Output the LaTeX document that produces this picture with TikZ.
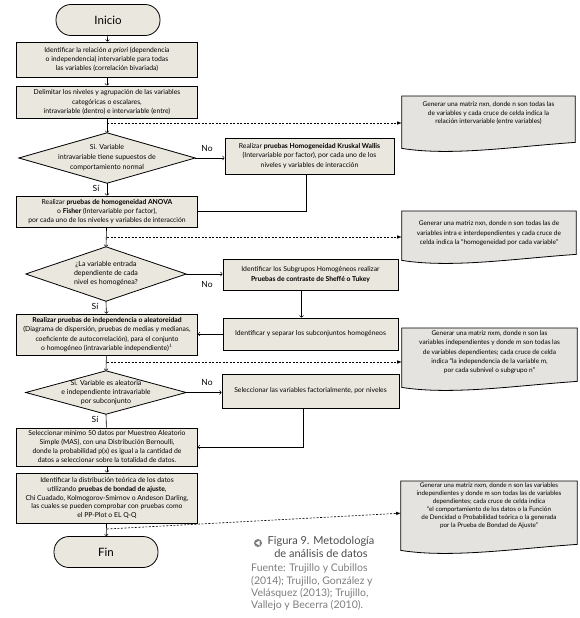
\documentclass[tikz,border=0pt]{standalone}
\usepackage{fontspec}
\setmainfont{Lato}
\usetikzlibrary{backgrounds,arrows}

\definecolor{boxgray}{RGB}{234,231,222}
\definecolor{docgray}{RGB}{229,227,223}
\definecolor{capgray}{RGB}{75,75,75}
\definecolor{srcgray}{RGB}{125,125,125}

\begin{document}
\begin{tikzpicture}[x=1pt,y=-1pt]

    \tikzset{
      BoxStyle/.style = { rectangle, draw, line width=0.8pt, fill=boxgray,
                          align=center, inner sep=1pt, minimum width=181pt,
                          font=\fontsize{6.8}{9.2}\selectfont },
      EndStyle/.style = { rectangle, rounded corners=15pt, draw, line width=0.8pt,
                          fill=boxgray, minimum width=104pt, minimum height=31pt,
                          font=\fontsize{11.5}{13}\selectfont },
      AskStyle/.style = { rectangle, align=center, inner sep=0pt,
                          font=\fontsize{7}{9}\selectfont },
      DocStyle/.style = { rectangle, anchor=north, align=center, inner sep=1pt,
                          font=\fontsize{6.5}{9.3}\selectfont },
      LabelStyle/.style = { inner sep=0pt, font=\fontsize{8.5}{10}\selectfont },
      EdgeStyle/.style = { ->, line width=0.6pt } }
    \useasboundingbox (0,0) rectangle (580,618);

      \node[EndStyle] (ini) at (108,20) {Inicio};
      \node[BoxStyle, minimum height=35pt] (rel) at (107,59.5)
        {Identificar la relación \textit{a priori} (dependencia\\
         o independencia) intervariable para todas\\
         las variables (correlación bivariada)};
      \node[BoxStyle, minimum height=32pt] (delim) at (107,102)
        {Delimitar los niveles y agrupación de las variables\\
         categóricas o escalares,\\
         intravariable (dentro) e intervariable (entre)};
      \node[AskStyle, minimum width=176pt, minimum height=50pt,
            font=\fontsize{7}{10}\selectfont] (si1) at (107,158)
        {Si. Variable\\intravariable tiene supuestos de\\comportamiento normal};
      \node[BoxStyle, minimum width=169pt, minimum height=36pt] (kw) at (309.5,156)
        {Realizar \textbf{pruebas Homogeneidad Kruskal Wallis}\\
         (Intervariable por factor), por cada uno de los\\
         niveles y variables de interacción};
      \node[BoxStyle, minimum height=31pt] (anova) at (107,211.5)
        {Realizar \textbf{pruebas de homogeneidad ANOVA}\\
         o \textbf{Fisher} (Intervariable por factor),\\
         por cada uno de los niveles y variables de interacción};
      \node[AskStyle, minimum width=160pt, minimum height=54pt] (homog) at (106,274)
        {¿La variable entrada\\dependiente de cada\\nivel es homogénea?};
      \node[BoxStyle, minimum width=175pt, minimum height=31pt] (sg) at (310.5,274.5)
        {Identificar los Subgrupos Homogéneos realizar\\
         \textbf{Pruebas de contraste de Sheffé o Tukey}};
      \node[BoxStyle, minimum height=41pt] (indep) at (107,334.5)
        {\textbf{Realizar pruebas de independencia o aleatoreidad}\\
         (Diagrama de dispersión, pruebas de medias y medianas,\\
         coeficiente de autocorrelación), para el conjunto\\
         o homogéneo (intravariable independiente)$^1$};
      \node[BoxStyle, minimum width=175pt, minimum height=32pt] (sep) at (310.5,334)
        {Identificar y separar los subconjuntos homogéneos};
      \node[AskStyle, minimum width=160pt, minimum height=43pt] (si2) at (106,392.5)
        {Si. Variable es aleatoria\\e independiente intravariable\\por subconjunto};
      \node[BoxStyle, minimum width=177pt, minimum height=34pt] (fac) at (310.5,391)
        {Seleccionar las variables factorialmente, por niveles};
      \node[BoxStyle, minimum height=38pt, font=\fontsize{6.8}{9}\selectfont] (mas) at (107,447)
        {Seleccionar mínimo 50 datos por Muestreo Aleatorio\\
         Simple (MAS), con una Distribución Bernoulli,\\
         donde la probabilidad p(x) es igual a la cantidad de\\
         datos a seleccionar sobre la totalidad de datos.};
      \node[BoxStyle, minimum height=50pt, font=\fontsize{6.8}{8.9}\selectfont] (ajuste) at (107,498)
        {Identificar la distribución teórica de los datos\\
         utilizando \textbf{pruebas de bondad de ajuste},\\
         Chi Cuadado, Kolmogorov-Smirnov o Andeson Darling,\\
         las cuales se pueden comprobar con pruebas como\\
         el PP-Plot o EL Q-Q};
      \node[EndStyle] (fin) at (106,552) {Fin};

      \node[DocStyle, minimum width=173pt, minimum height=34pt,
            font=\fontsize{6.5}{8.3}\selectfont] (doc1) at (488.5,96)
        {Generar una matriz nxn, donde n son todas las\\
         de variables y cada cruce de celda indica la\\
         relación intervariable (entre variables)};
      \node[DocStyle, minimum width=174pt, minimum height=44pt,
            font=\fontsize{6.5}{9.6}\selectfont] (doc2) at (489,211)
        {Generar una matriz nxn, donde n son todas las de\\
         variables intra e interdependientes y cada cruce de\\
         celda indica la “homogeneidad por cada variable”};
      \node[DocStyle, minimum width=175pt, minimum height=48pt] (doc3) at (489.5,328)
        {Generar una matriz nxm, donde n son las\\
         variables independientes y donde m son todas las\\
         de variables dependientes; cada cruce de celda\\
         indica “la independencia de la variable m,\\
         por cada subnivel o subgrupo n”};
      \node[DocStyle, minimum width=176pt, minimum height=50pt,
            font=\fontsize{6.3}{8}\selectfont] (doc4) at (489,481)
        {Generar una matriz nxm, donde n son las variables\\
         independientes y donde m son todas las de variables\\
         dependientes; cada cruce de celda indica\\
         “el comportamiento de los datos o la Función\\
         de Dencidad o Probabilidad teórica o la generada\\
         por la Prueba de Bondad de Ajuste”};

    \begin{pgfonlayer}{background}
      \foreach \d in {si1,homog,si2}
        \draw[line width=0.8pt, fill=boxgray]
          (\d.north) -- (\d.east) -- (\d.south) -- (\d.west) -- cycle;
      \foreach \d/\e in {doc1/18, doc2/5, doc3/11, doc4/19}
        \draw[line width=0.8pt, fill=docgray]
          (\d.north west) -- ([yshift=-\e pt]\d.south west)
          .. controls +(50pt,-8pt) and +(-60pt,-4pt) .. ([yshift={(6-\e)*1pt}]\d.south east)
          -- (\d.north east) -- cycle;
    \end{pgfonlayer}

      \node[LabelStyle] (no1) at (207,148) {No};
      \node[LabelStyle] (no2) at (207,284) {No};
      \node[LabelStyle] (no3) at (207,382) {No};
      \node[LabelStyle] (yes1) at (96,188) {Sí};
      \node[LabelStyle] (yes2) at (95,306) {Sí};
      \node[LabelStyle] (yes3) at (95,419) {Sí};

      \draw[EdgeStyle] (ini) -- (rel);
      \draw[EdgeStyle] (rel) -- (delim);
      \draw[EdgeStyle] (delim) -- (si1.north);
      \draw[EdgeStyle] (si1.east) -- (si1.east -| kw.west);
      \draw[EdgeStyle] (si1.south) -- (anova);
      \draw[line width=0.6pt] ([xshift=-3pt]kw.south) |- (anova.east);
      \draw[EdgeStyle] (anova) -- (homog.north);
      \draw[EdgeStyle] (homog.east) -- (homog.east -| sg.west);
      \draw[EdgeStyle] ([xshift=-9pt]sg.south) -- ([xshift=-9pt]sep.north);
      \draw[EdgeStyle] (sep.west) -- (sep.west -| indep.east);
      \draw[EdgeStyle] (homog.south) -- (indep);
      \draw[EdgeStyle] (indep) -- (si2.north);
      \draw[EdgeStyle] (si2.east) -- (si2.east -| fac.west);
      \draw[line width=0.6pt] (si2.south) -- (mas);
      \draw[EdgeStyle] ([xshift=-7pt]fac.south) |- (mas.east);
      \draw[EdgeStyle] (mas) -- (ajuste);
      \draw[EdgeStyle] (ajuste) -- (fin);

    \tikzset{
      EdgeStyle/.append style = { -latex, dash pattern=on 2pt off 1.5pt } }
      \coordinate (t1) at (107,123);
      \coordinate (t2) at (107,237);
      \coordinate (t3) at (107,362);
      \coordinate (t4) at (107,529);
      \draw[EdgeStyle] (t1) -- (t1 -| doc1.west);
      \draw[EdgeStyle] (t2) -- (t2 -| doc2.west);
      \draw[EdgeStyle] (t3) -- (t3 -| doc3.west);
      \draw[EdgeStyle] (t4) -- ([yshift=-7pt]doc4.west);

      \fill[srcgray] (258,543) circle (4pt);
      \fill[white] (255.5,543) -- (259.5,540.5) -- (259.5,545.5) -- cycle;
      \node[font=\fontsize{11}{12.5}\selectfont, text=capgray, align=center]
        (fig) at (321,547) {Figura 9. Metodología\\de análisis de datos};
      \node[font=\fontsize{10.5}{12.3}\selectfont, text=srcgray, align=left,
            anchor=north west, inner sep=0pt] (src) at (251,564)
        {Fuente: Trujillo y Cubillos\\(2014); Trujillo, González y\\
         Velásquez (2013); Trujillo,\\Vallejo y Becerra (2010).};
    \end{tikzpicture}
\end{document}
